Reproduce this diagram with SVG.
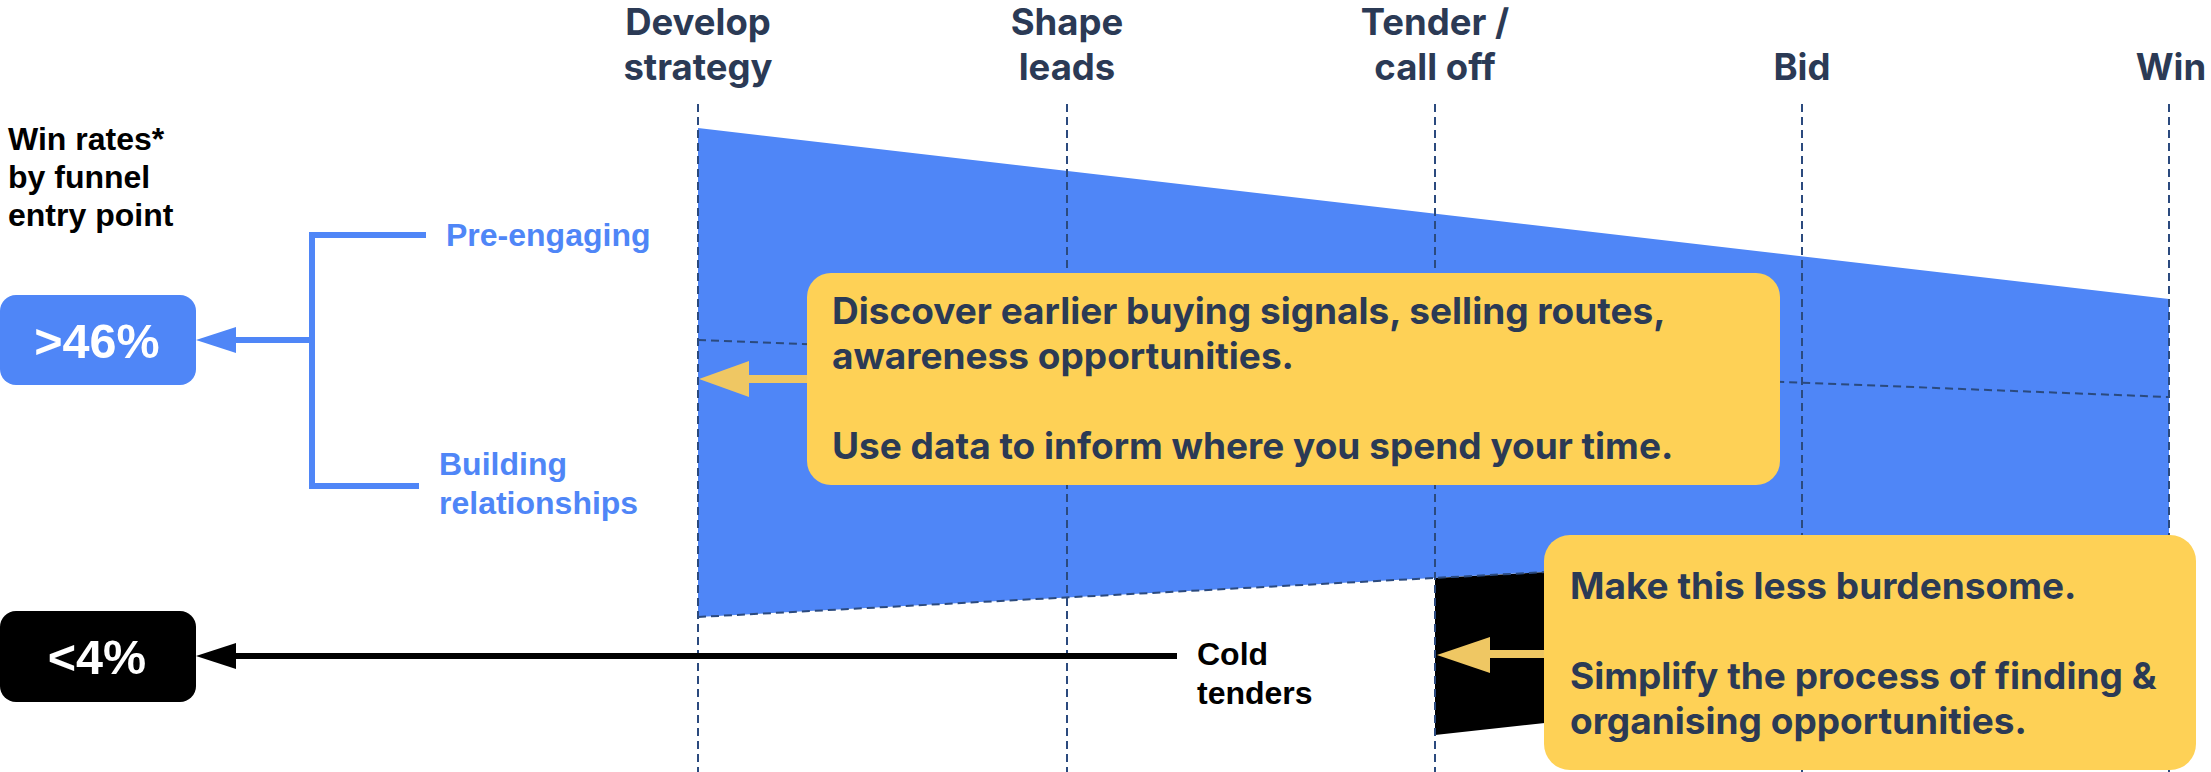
<svg xmlns="http://www.w3.org/2000/svg" width="2211" height="772" viewBox="0 0 2211 772">
  <defs>
    <style>
      .stage { font-family: Inter, "Liberation Sans", sans-serif; font-weight: 700; font-size: 36.5px; fill: #2b3a55; text-anchor: middle; }
      .note { font-family: Inter, "Liberation Sans", sans-serif; font-weight: 700; font-size: 37px; fill: #2b3a55; }
      .side { font-family: "Liberation Sans", Arial, sans-serif; font-weight: 700; font-size: 32px; }
      .rate { font-family: "Liberation Sans", Arial, sans-serif; font-weight: 700; font-size: 48.5px; fill: #ffffff; text-anchor: middle; }
      .guide { stroke: #2b4a7e; stroke-width: 2; stroke-dasharray: 8 5; fill: none; }
      .callout { fill: #fed156; }
    </style>
  </defs>

  <rect width="2211" height="772" fill="#ffffff"/>

  <!-- funnel bands -->
  <g id="funnel">
    <polygon id="funnel-warm" points="698,128 2169,299 2169,539 698,617" fill="#4f86f7"/>
    <polygon id="funnel-cold" points="1435,578 2169,539 2169,655 1435,735" fill="#000000"/>
    <line class="guide" x1="698" y1="340" x2="2169" y2="397"/>
    <line class="guide" x1="698" y1="617" x2="2169" y2="539"/>
  </g>

  <!-- stage guides -->
  <g id="stage-guides">
    <line class="guide" x1="698" y1="104" x2="698" y2="772"/>
    <line class="guide" x1="1067" y1="104" x2="1067" y2="772"/>
    <line class="guide" x1="1435" y1="104" x2="1435" y2="772"/>
    <line class="guide" x1="1802" y1="104" x2="1802" y2="772"/>
    <line class="guide" x1="2169" y1="104" x2="2169" y2="772"/>
  </g>

  <!-- stage headings -->
  <g id="stage-develop"><text class="stage" x="698" y="35">Develop</text><text class="stage" x="698" y="80">strategy</text></g>
  <g id="stage-shape"><text class="stage" x="1067" y="35">Shape</text><text class="stage" x="1067" y="80">leads</text></g>
  <g id="stage-tender"><text class="stage" x="1435" y="35">Tender /</text><text class="stage" x="1435" y="80">call off</text></g>
  <g id="stage-bid"><text class="stage" x="1802" y="80">Bid</text></g>
  <g id="stage-win"><text class="stage" x="2171" y="80">Win</text></g>

  <!-- left-hand legend -->
  <g id="legend-title">
    <text class="side" x="8" y="150" fill="#000000">Win rates*</text>
    <text class="side" x="8" y="188" fill="#000000">by funnel</text>
    <text class="side" x="8" y="226" fill="#000000">entry point</text>
  </g>
  <g id="label-pre-engaging"><text class="side" x="446" y="246" fill="#4f86f7">Pre-engaging</text></g>
  <g id="label-building">
    <text class="side" x="439" y="475" fill="#4f86f7">Building</text>
    <text class="side" x="439" y="514" fill="#4f86f7">relationships</text>
  </g>
  <g id="label-cold"><text class="side" x="1197" y="665" fill="#000000">Cold</text><text class="side" x="1197" y="704" fill="#000000">tenders</text></g>

  <g id="rate-high">
    <rect x="0" y="295" width="196" height="90" rx="16" fill="#4f86f7"/>
    <text class="rate" x="97" y="358">&gt;46%</text>
  </g>
  <g id="rate-low">
    <rect x="0" y="611" width="196" height="91" rx="16" fill="#000000"/>
    <text class="rate" x="97" y="674">&lt;4%</text>
  </g>

  <!-- connectors -->
  <g id="connectors">
    <path d="M426,235 H312 V486 H419" fill="none" stroke="#4f86f7" stroke-width="6"/>
    <line x1="312" y1="340" x2="234" y2="340" stroke="#4f86f7" stroke-width="6"/>
    <polygon points="196,340 236,327 236,353" fill="#4f86f7"/>
    <line x1="1177" y1="656" x2="234" y2="656" stroke="#000000" stroke-width="6"/>
    <polygon points="196,656 236,643 236,669" fill="#000000"/>
    <line x1="810" y1="379" x2="747" y2="379" stroke="#efc763" stroke-width="8"/>
    <polygon points="699,379 749,361 749,397" fill="#efc763"/>
    <line x1="1546" y1="654" x2="1488" y2="654" stroke="#efc763" stroke-width="8"/>
    <polygon points="1437,655 1490,637 1490,673" fill="#efc763"/>
  </g>

  <!-- callouts -->
  <g id="callout-discover">
    <rect class="callout" x="807" y="273" width="973" height="212" rx="24"/>
    <text class="note" x="832" y="324">Discover earlier buying signals, selling routes,</text>
    <text class="note" x="832" y="369">awareness opportunities.</text>
    <text class="note" x="832" y="459">Use data to inform where you spend your time.</text>
  </g>
  <g id="callout-simplify">
    <rect class="callout" x="1544" y="535" width="652" height="235" rx="26"/>
    <text class="note" x="1570" y="599">Make this less burdensome.</text>
    <text class="note" x="1570" y="689">Simplify the process of finding &amp;</text>
    <text class="note" x="1570" y="734">organising opportunities.</text>
  </g>
</svg>
